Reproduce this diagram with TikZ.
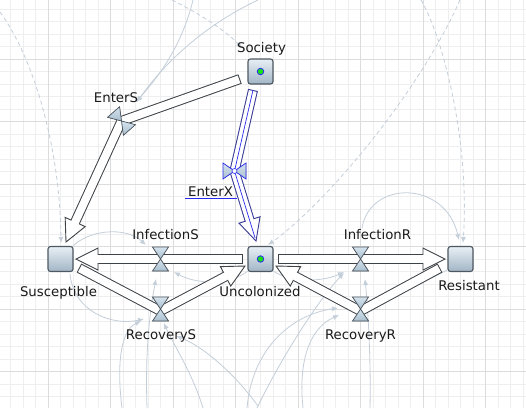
\documentclass[tikz,border=0pt]{standalone}
\usepackage{fontspec}
\setmainfont{DejaVu Sans}
\usetikzlibrary{calc,arrows.meta}
\definecolor{gridminor}{HTML}{EEEEEE}
\definecolor{gridmajor}{HTML}{DCDCDC}
\definecolor{linkc}{HTML}{C4CFDA}
\definecolor{pipedark}{HTML}{3E4348}
\definecolor{stocktop}{HTML}{E8EFF5}
\definecolor{stockbot}{HTML}{A2B5C5}
\definecolor{stockline}{HTML}{4E5861}
\definecolor{valvetop}{HTML}{D6E4EE}
\definecolor{valvebot}{HTML}{A8BECE}
\definecolor{selblue}{HTML}{2A2AF0}
\definecolor{dotgreen}{HTML}{19E019}
\definecolor{txt}{HTML}{1A1A1A}
\tikzset{
 stock/.style={draw=stockline, line width=1.1pt, rounded corners=2.5pt, top color=stocktop, bottom color=stockbot, minimum size=25pt, inner sep=0pt},
 lbl/.style={font=\fontsize{13.3}{15}\selectfont, inner sep=0pt, text=txt, anchor=base},
 link/.style={draw=linkc, line width=0.8pt, -{Latex[length=6pt,width=5pt]}},
 dlink/.style={link, dash pattern=on 4pt off 3pt},
 pipeouter/.style={draw=#1, line width=10pt, line join=miter, line cap=butt},
 pipeinner/.style={draw=white, line width=8pt, line join=miter, line cap=butt},
 valvefill/.style={top color=valvetop, bottom color=valvebot, draw=stockline, line width=0.7pt, line join=miter},
 dot/.style={circle, fill=dotgreen, draw=selblue, line width=0.8pt, minimum size=6.5pt, inner sep=0pt},
}
% #1 colour, #2 path up to last bend, #3 last point before tip, #4 tip
\newcommand\flowpipe[4][pipedark]{%
  \path ($(#4)!22pt!(#3)$) coordinate (fpbase) ($(#4)!20.5pt!(#3)$) coordinate (fpin);
  \draw[pipeouter=#1] #2 -- (fpbase);
  \filldraw[fill=white, draw=#1, line width=0.9pt, line join=miter] (#4) -- ($(fpbase)!11pt!90:(#4)$) -- ($(fpbase)!11pt!-90:(#4)$) -- cycle;
  \draw[pipeinner, shorten <=1pt] #2 -- (fpin);
}
\newcommand\hvalve[1]{%
  \filldraw[valvefill] ($(#1)+(-8,-12)$) -- ($(#1)+(8,-12)$) -- (#1) -- cycle;
  \filldraw[valvefill] ($(#1)+(-8,12)$) -- ($(#1)+(8,12)$) -- (#1) -- cycle;
}
\begin{document}
\begin{tikzpicture}[x=1pt,y=-1pt]
\useasboundingbox (0,0) rectangle (526,408);
\fill[white] (0,0) rectangle (526,408);
% grid
\foreach \i in {-3,...,38} {\pgfmathsetmacro\xx{48+12.5*\i}\draw[gridminor, line width=0.6pt] (\xx,0) -- (\xx,408);}
\foreach \i in {-4,...,27} {\pgfmathsetmacro\yy{59+12.5*\i}\draw[gridminor, line width=0.6pt] (0,\yy) -- (526,\yy);}
\foreach \i in {0,...,7} {\pgfmathsetmacro\xx{48+62.5*\i}\draw[gridmajor, line width=0.9pt] (\xx,0) -- (\xx,408);}
\foreach \i in {0,...,5} {\pgfmathsetmacro\yy{59+62.5*\i}\draw[gridmajor, line width=0.9pt] (0,\yy) -- (526,\yy);}

% named points
\coordinate (vES) at (121.5,121);
\coordinate (vEX) at (234.5,171);
\coordinate (vIS) at (160.5,259);
\coordinate (vRS) at (160.5,309);
\coordinate (vIR) at (360.5,259);
\coordinate (vRR) at (360.5,309);
\coordinate (bRS) at (160.5,311);
\coordinate (bRR) at (360.5,311);
\coordinate (pES0) at (240,79);   \coordinate (pES1) at (66,242);
\coordinate (pEX0) at (253,90);   \coordinate (pEX1) at (256,241);
\coordinate (pIS0) at (243,259);  \coordinate (pIS1) at (76,259);
\coordinate (pRS0) at (79,268);   \coordinate (pRS1) at (245,266);
\coordinate (pIR0) at (278,259);  \coordinate (pIR1) at (445,259);
\coordinate (pRR0) at (440,268);  \coordinate (pRR1) at (276,266);

% info links (free ends)
\coordinate (k1) at (0,12);    \coordinate (k1e) at (61,243);
\coordinate (k2) at (193,0);   \coordinate (k2e) at (136,102);
\coordinate (k3) at (258,0);   \coordinate (k3e) at (137,102);
\coordinate (k4) at (172,0);   \coordinate (k4e) at (242,48);
\coordinate (k5) at (421,0);   \coordinate (k5e) at (463,243);
\coordinate (k6) at (460,0);   \coordinate (k6e) at (268,245);
\coordinate (k7) at (362,228); \coordinate (k7e) at (459,240);
\coordinate (k8) at (72,247);  \coordinate (k8e) at (146,245);
\coordinate (k9) at (70,274);  \coordinate (k9e) at (144,319);
\coordinate (k10) at (248,271); \coordinate (k10e) at (174,272);
\coordinate (k11) at (273,271); \coordinate (k11e) at (344,272);
\coordinate (k12) at (447,270); \coordinate (k12e) at (385,295);
\coordinate (k13) at (122,408); \coordinate (k13e) at (141,321);
\coordinate (k14) at (147,408); \coordinate (k14e) at (156,279);
\coordinate (k15) at (203,408); \coordinate (k15e) at (164,323);
\coordinate (k16) at (258,406); \coordinate (k16e) at (176,336);
\coordinate (k17) at (247,408); \coordinate (k17e) at (338,308);
\coordinate (k18) at (257,408); \coordinate (k18e) at (344,273);
\coordinate (k19) at (303,408); \coordinate (k19e) at (339,315);
\coordinate (k20) at (370,408); \coordinate (k20e) at (365,279);

\draw[dlink] (k1) .. controls (35,60) and (60,150) .. (k1e);
\draw[link] (k2) .. controls (182,45) and (160,75) .. (k2e);
\draw[link] (k3) .. controls (205,25) and (165,62) .. (k3e);
\draw[dlink] (k4) .. controls (200,14) and (225,30) .. (k4e);
\draw[dlink] (k5) .. controls (442,35) and (470,140) .. (k5e);
\draw[dlink] (k6) .. controls (420,90) and (330,200) .. (k6e);
\draw[link] (k7) .. controls (370,180) and (445,180) .. (k7e);
\draw[link] (k8) .. controls (88,230) and (125,226) .. (k8e);
\draw[link] (k9) .. controls (74,312) and (112,326) .. (k9e);
\draw[link] (k10) .. controls (228,286) and (196,284) .. (k10e);
\draw[link] (k11) .. controls (293,284) and (325,281) .. (k11e);
\draw[link] (k12) .. controls (425,282) and (405,290) .. (k12e);
\draw[link] (k13) .. controls (116,360) and (122,330) .. (k13e);
\draw[link] (k14) .. controls (145,350) and (150,310) .. (k14e);
\draw[link] (k15) .. controls (192,372) and (172,342) .. (k15e);
\draw[link] (k16) .. controls (232,370) and (200,345) .. (k16e);
\draw[link] (k17) .. controls (252,350) and (290,315) .. (k17e);
\draw[link] (k18) .. controls (280,360) and (318,300) .. (k18e);
\draw[link] (k19) .. controls (298,360) and (310,328) .. (k19e);
\draw[link] (k20) .. controls (371,360) and (368,310) .. (k20e);

% flow pipes
\flowpipe{(pES0) -- (vES)}{vES}{pES1}
\flowpipe[selblue!45!pipedark]{(pEX0) -- (vEX)}{vEX}{pEX1}
\draw[selblue, line width=0.7pt] (pEX0) -- (vEX) -- ($(pEX1)!3pt!(vEX)$);
\flowpipe{(pIS0)}{pIS0}{pIS1}
\flowpipe{(pRS0) -- (bRS)}{bRS}{pRS1}
\flowpipe{(pIR0)}{pIR0}{pIR1}
\flowpipe{(pRR0) -- (bRR)}{bRR}{pRR1}

% valves
\hvalve{vIS}
\hvalve{vRS}
\hvalve{vIR}
\hvalve{vRR}
\filldraw[valvefill] (119.6,106.7) -- (107.6,117.3) -- (vES) -- cycle;
\filldraw[valvefill] (135.4,124.7) -- (123.4,135.3) -- (vES) -- cycle;
\filldraw[valvefill, draw=selblue] (223,163) -- (223,179) -- (vEX) -- cycle;
\filldraw[valvefill, draw=selblue] (246,163) -- (246,179) -- (vEX) -- cycle;
\node[circle, draw=selblue, fill=white, line width=0.6pt, minimum size=5pt, inner sep=0pt] (exc) at (vEX) {};

% stocks
\node[stock] (Soc) at (260.5,71.5) {};
\node[stock] (Sus) at (60.5,259) {};
\node[stock] (Unc) at (260.5,259) {};
\node[stock] (Res) at (460.5,259) {};
\node[dot] (socdot) at (260.5,71.5) {};
\node[dot] (uncdot) at (260.5,259) {};

% labels
\node[lbl] (lSoc) at (261.5,52) {Society};
\node[lbl] (lES) at (116,102.5) {EnterS};
\node[lbl] (lEX) at (210.5,196.5) {EnterX};
\draw[selblue, line width=0.8pt] (185,198) -- (237,198);
\node[lbl] (lIS) at (165.5,239.5) {InfectionS};
\node[lbl] (lSus) at (58.5,296) {Susceptible};
\node[lbl] (lUnc) at (260,296) {Uncolonized};
\node[lbl] (lRS) at (161,339) {RecoveryS};
\node[lbl] (lIR) at (377.5,239.5) {InfectionR};
\node[lbl] (lRes) at (469,290) {Resistant};
\node[lbl] (lRR) at (360.5,339) {RecoveryR};
\end{tikzpicture}
\end{document}
